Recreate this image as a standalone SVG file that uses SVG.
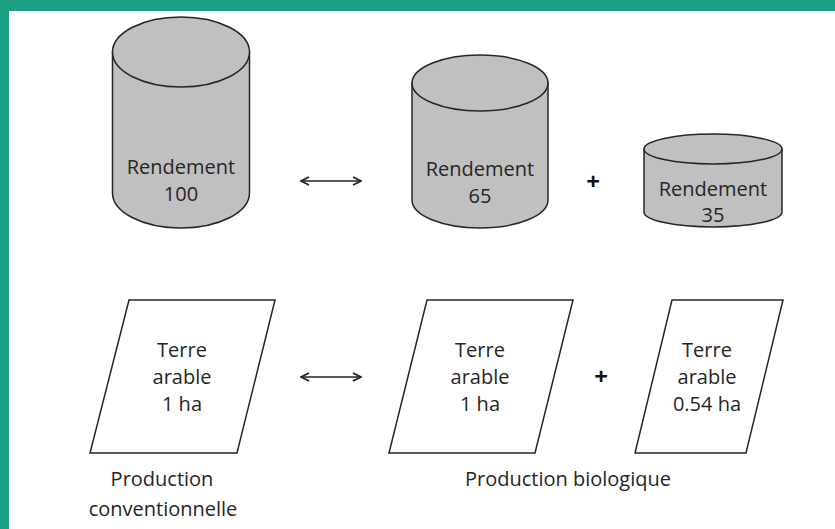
<svg xmlns="http://www.w3.org/2000/svg" width="835" height="529" viewBox="0 0 835 529">
<style>
.cyl{fill:#c0c0c0;stroke:#262626;stroke-width:1.5}
.par{fill:#ffffff;stroke:#262626;stroke-width:1.5}
.t{font-family:"Open Sans","Noto Sans",sans-serif;font-size:20px;fill:#262626;text-anchor:middle}
.plus{font-family:"Open Sans","Noto Sans",sans-serif;font-size:24px;font-weight:bold;fill:#111;text-anchor:middle}
.conn{stroke:#222;stroke-width:1.6;fill:none}
</style>
<defs>
<marker id="ah" viewBox="0 0 10 10" refX="9" refY="5" markerWidth="10" markerHeight="10" markerUnits="userSpaceOnUse" orient="auto-start-reverse">
<path d="M1,1 L9,5 L1,9" fill="none" stroke="#222" stroke-width="1.8"/>
</marker>
</defs>
<rect x="0" y="0" width="835" height="529" fill="#ffffff"/>
<rect x="0" y="0" width="835" height="11" fill="#1ba086"/>
<rect x="0" y="0" width="9" height="529" fill="#1ba086"/>

<g id="cyl-100">
<path class="cyl" d="M112.5,52 L112.5,193 A68.5,35 0 0 0 249.5,193 L249.5,52 Z"/>
<ellipse class="cyl" cx="181" cy="52" rx="68.5" ry="35"/>
<text class="t" x="181" y="174">Rendement</text>
<text class="t" x="181" y="201">100</text>
</g>

<g id="cyl-65">
<path class="cyl" d="M412,83 L412,200 A68,28 0 0 0 548,200 L548,83 Z"/>
<ellipse class="cyl" cx="480" cy="83" rx="68" ry="28"/>
<text class="t" x="480" y="176">Rendement</text>
<text class="t" x="480" y="203">65</text>
</g>

<g id="cyl-35">
<path class="cyl" d="M644,149 L644,212 A69,15 0 0 0 782,212 L782,149 Z"/>
<ellipse class="cyl" cx="713" cy="149" rx="69" ry="15"/>
<text class="t" x="713" y="196">Rendement</text>
<text class="t" x="713" y="222">35</text>
</g>

<g id="land-1">
<polygon class="par" points="129,300 275,300 237,453 90,453"/>
<text class="t" x="182" y="357">Terre</text>
<text class="t" x="182" y="384">arable</text>
<text class="t" x="182" y="411">1 ha</text>
</g>

<g id="land-2">
<polygon class="par" points="427,300 573,300 535,453 389,453"/>
<text class="t" x="480" y="357">Terre</text>
<text class="t" x="480" y="384">arable</text>
<text class="t" x="480" y="411">1 ha</text>
</g>

<g id="land-3">
<polygon class="par" points="672,300 783,300 746,453 635,453"/>
<text class="t" x="707" y="357">Terre</text>
<text class="t" x="707" y="384">arable</text>
<text class="t" x="707" y="411">0.54 ha</text>
</g>

<g id="connectors">
<line class="conn" x1="301" y1="181" x2="361" y2="181" marker-start="url(#ah)" marker-end="url(#ah)"/>
<line class="conn" x1="301" y1="377" x2="361" y2="377" marker-start="url(#ah)" marker-end="url(#ah)"/>
<text class="plus" x="593" y="190">+</text>
<text class="plus" x="601" y="385">+</text>
</g>

<g id="labels">
<text class="t" x="162" y="486">Production</text>
<text class="t" x="163" y="516">conventionnelle</text>
<text class="t" x="568" y="486">Production biologique</text>
</g>
</svg>
